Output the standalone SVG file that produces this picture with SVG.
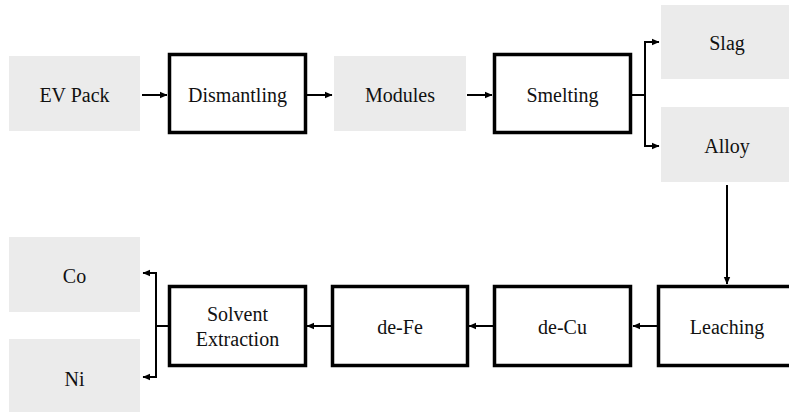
<svg xmlns="http://www.w3.org/2000/svg" width="789" height="412" viewBox="0 0 789 412">
  <defs>
    <marker id="arrow" markerWidth="8" markerHeight="8" refX="7" refY="4" orient="auto" markerUnits="userSpaceOnUse">
      <path d="M0,0.8 L7.5,4 L0,7.2 Z" fill="#000"/>
    </marker>
    <style>
      .product { fill: #ebebeb; stroke: none; }
      .process { fill: #fff; stroke: #000; stroke-width: 3.5; }
      .link { fill: none; stroke: #000; stroke-width: 2; }
    </style>
  </defs>

  <rect width="789" height="412" fill="#fff"/>

  <!-- Top row -->
  <g id="ev-pack">
    <rect class="product" x="9" y="56" width="131" height="75"/>
    <text style="font-family: 'Liberation Serif', serif; font-size: 20px" fill="#111" text-anchor="middle" x="74.5" y="101.5">EV Pack</text>
  </g>
  <g id="dismantling">
    <rect class="process" x="169.5" y="54.5" width="136" height="78"/>
    <text style="font-family: 'Liberation Serif', serif; font-size: 20px" fill="#111" text-anchor="middle" x="237.5" y="101.5">Dismantling</text>
  </g>
  <g id="modules">
    <rect class="product" x="334" y="56" width="132" height="75"/>
    <text style="font-family: 'Liberation Serif', serif; font-size: 20px" fill="#111" text-anchor="middle" x="400" y="101.5">Modules</text>
  </g>
  <g id="smelting">
    <rect class="process" x="494.5" y="54.5" width="136" height="78"/>
    <text style="font-family: 'Liberation Serif', serif; font-size: 20px" fill="#111" text-anchor="middle" x="562.5" y="101.5">Smelting</text>
  </g>
  <g id="slag">
    <rect class="product" x="661" y="5" width="128" height="74"/>
    <text style="font-family: 'Liberation Serif', serif; font-size: 20px" fill="#111" text-anchor="middle" x="727" y="49.5">Slag</text>
  </g>
  <g id="alloy">
    <rect class="product" x="661" y="107" width="128" height="75"/>
    <text style="font-family: 'Liberation Serif', serif; font-size: 20px" fill="#111" text-anchor="middle" x="727" y="152.5">Alloy</text>
  </g>

  <!-- Bottom row -->
  <g id="leaching">
    <rect class="process" x="658.5" y="286.5" width="140" height="79"/>
    <text style="font-family: 'Liberation Serif', serif; font-size: 20px" fill="#111" text-anchor="middle" x="727" y="333.5">Leaching</text>
  </g>
  <g id="de-cu">
    <rect class="process" x="494.5" y="286.5" width="136" height="79"/>
    <text style="font-family: 'Liberation Serif', serif; font-size: 20px" fill="#111" text-anchor="middle" x="562.5" y="333.5">de-Cu</text>
  </g>
  <g id="de-fe">
    <rect class="process" x="332.5" y="286.5" width="135" height="79"/>
    <text style="font-family: 'Liberation Serif', serif; font-size: 20px" fill="#111" text-anchor="middle" x="400" y="333.5">de-Fe</text>
  </g>
  <g id="solvent-extraction">
    <rect class="process" x="169.5" y="286.5" width="136" height="79"/>
    <text style="font-family: 'Liberation Serif', serif; font-size: 20px" fill="#111" text-anchor="middle" x="237.5" y="320.5">Solvent</text>
    <text style="font-family: 'Liberation Serif', serif; font-size: 20px" fill="#111" text-anchor="middle" x="237.5" y="345.5">Extraction</text>
  </g>
  <g id="co">
    <rect class="product" x="9" y="237" width="131" height="75"/>
    <text style="font-family: 'Liberation Serif', serif; font-size: 20px" fill="#111" text-anchor="middle" x="74.5" y="282.5">Co</text>
  </g>
  <g id="ni">
    <rect class="product" x="9" y="339" width="131" height="75"/>
    <text style="font-family: 'Liberation Serif', serif; font-size: 20px" fill="#111" text-anchor="middle" x="74.5" y="385.5">Ni</text>
  </g>

  <!-- Connectors -->
  <g id="connectors">
    <line class="link" x1="142" y1="95" x2="167" y2="95" marker-end="url(#arrow)"/>
    <line class="link" x1="307" y1="95" x2="332" y2="95" marker-end="url(#arrow)"/>
    <line class="link" x1="467" y1="95" x2="492" y2="95" marker-end="url(#arrow)"/>
    <path class="link" d="M632,95 H645"/>
    <path class="link" d="M645,42 V146"/>
    <line class="link" x1="644" y1="42" x2="659" y2="42" marker-end="url(#arrow)"/>
    <line class="link" x1="644" y1="146" x2="659" y2="146" marker-end="url(#arrow)"/>
    <line class="link" x1="727" y1="185" x2="727" y2="284" marker-end="url(#arrow)"/>
    <line class="link" x1="657" y1="326" x2="633" y2="326" marker-end="url(#arrow)"/>
    <line class="link" x1="493" y1="326" x2="469" y2="326" marker-end="url(#arrow)"/>
    <line class="link" x1="331" y1="326" x2="307" y2="326" marker-end="url(#arrow)"/>
    <path class="link" d="M168,326 H156"/>
    <path class="link" d="M156,273 V377"/>
    <line class="link" x1="157" y1="273" x2="143" y2="273" marker-end="url(#arrow)"/>
    <line class="link" x1="157" y1="377" x2="143" y2="377" marker-end="url(#arrow)"/>
  </g>
</svg>
